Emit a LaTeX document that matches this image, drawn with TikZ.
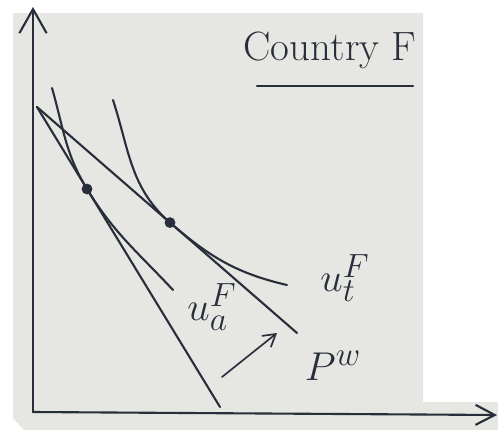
\documentclass[tikz,border=0pt]{standalone}
\usepackage{xcolor}
\usepackage{tikz}
\usetikzlibrary{arrows.meta}
\definecolor{paper}{RGB}{230,231,227}
\definecolor{ink}{RGB}{40,46,58}

\begin{document}
\begin{tikzpicture}[x=0.025cm, y=0.025cm, line width=1.5pt, draw=ink, line cap=round,
  tangency/.style={circle, fill=ink, inner sep=0pt, minimum size=0.27cm},
  curvelabel/.style={text=ink, font=\Huge, scale=1.15}]
\useasboundingbox (0,0) rectangle (498,430);
% Paper background
\fill[paper] (13,417) -- (423,417) -- (423,28) -- (498,28) -- (498,0) -- (24,0) -- (13,12) -- cycle;

% Axes
\coordinate (O) at (33,18);
\coordinate (ytop) at (33,423);
\coordinate (xend) at (497,15);
\draw[-{Straight Barb[length=0.6cm, width=0.68cm]}] (O) -- (ytop);
\draw[-{Straight Barb[length=0.48cm, width=0.5cm]}] (O) -- (xend);

% Price lines through the production point
\coordinate (E) at (37,323);
\coordinate (Paut) at (220,23);
\coordinate (Pworld) at (297,97);
\draw (E) -- (Paut);
\draw (E) -- (Pworld);

% Indifference curves
\coordinate (A) at (87,241);
\coordinate (T) at (170,207.4);
\coordinate (ua1) at (52,342);
\coordinate (ua2) at (173,140);
\coordinate (ut1) at (113,330);
\coordinate (ut2) at (287,145);
\draw (ua1) to[out=-74,in=121.4] (A) to[out=-58.6,in=133] (ua2);
\draw (ut1) to[out=-72,in=139] (T) to[out=-41,in=167] (ut2);
\node[tangency] (dotA) at (A) {};
\node[tangency] (dotT) at (T) {};

% Labels
\node[curvelabel] (uaF) at (212,123) {$u^F_a$};
\node[curvelabel] (utF) at (345,152) {$u^F_t$};
\node[curvelabel] (PwF) at (333,64) {$P^w$};
\node[text=ink, font=\Huge, scale=1.17] (title) at (330,380) {Country F};
\coordinate (ulL) at (257,344);
\coordinate (ulR) at (413,344);
\draw (ulL) -- (ulR);

% Shift of the price line
\coordinate (shiftS) at (222,53);
\coordinate (shiftE) at (277,97);
\draw[line width=1.2pt, -{Straight Barb[length=0.3cm, width=0.36cm]}] (shiftS) -- (shiftE);
\end{tikzpicture}
\end{document}
